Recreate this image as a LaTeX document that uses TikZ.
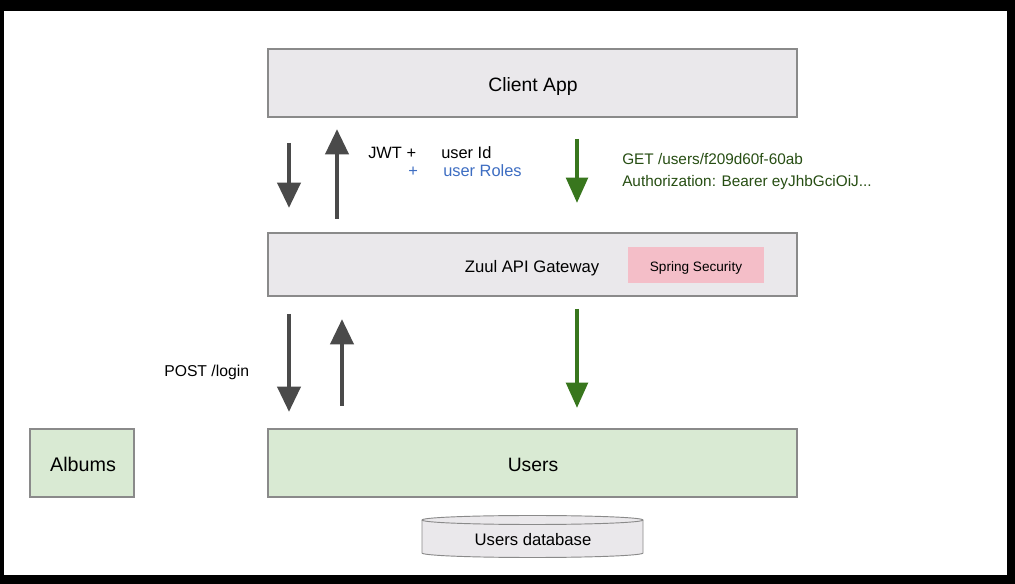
\documentclass[tikz,border=0pt]{standalone}
\usepackage{fontspec}
\setmainfont{Liberation Sans}
\usetikzlibrary{arrows.meta}
\definecolor{boxgray}{HTML}{EAE8EB}
\definecolor{boxgreen}{HTML}{D9EAD3}
\definecolor{pink}{HTML}{F4BEC8}
\definecolor{arrgray}{HTML}{4A4A4A}
\definecolor{arrgreen}{HTML}{38761D}
\definecolor{txtgreen}{HTML}{274E13}
\definecolor{txtblue}{HTML}{3D6DC2}
\definecolor{edge}{HTML}{8A8A8A}
\tikzset{
  box/.style={draw=edge, line width=0.8pt, inner sep=0pt},
  grayarrow/.style={draw=arrgray, line width=3.6pt, -{Triangle[length=19pt,width=17pt]}},
  greenarrow/.style={draw=arrgreen, line width=3.2pt, -{Triangle[length=19pt,width=16pt]}},
  lbl/.style={inner sep=0pt, anchor=base west},
  ctr/.style={inner sep=0pt, anchor=base},
}
\begin{document}
\begin{tikzpicture}[x=0.75pt,y=-0.75pt]
\fill[black] (0,0) rectangle (1015,584);
\fill[white] (4,11) rectangle (1007,575);
\useasboundingbox (0,0) rectangle (1015,584);
% boxes
\node[box, fill=boxgray, minimum width=396.75pt, minimum height=51pt] (client) at (532.5,83) {};
\node[ctr, font=\fontsize{14.5}{16}\selectfont] (clienttext) at (533,92) {Client App};
\node[box, fill=boxgray, minimum width=396.75pt, minimum height=47.25pt] (zuul) at (532.5,264.5) {};
\node[ctr, font=\fontsize{12.5}{14}\selectfont] (zuultext) at (532,272.5) {Zuul API Gateway};
\node[fill=pink, minimum width=102pt, minimum height=27pt, inner sep=0pt] (spring) at (696,265) {};
\node[ctr, font=\fontsize{10.2}{12}\selectfont] (springtext) at (696,271.5) {Spring Security};
\node[box, fill=boxgreen, minimum width=396.75pt, minimum height=51pt] (users) at (532.5,463) {};
\node[ctr, font=\fontsize{14.5}{16}\selectfont] (userstext) at (533,472) {Users};
\node[box, fill=boxgreen, minimum width=78pt, minimum height=51pt] (albums) at (82,463) {};
\node[ctr, font=\fontsize{14.8}{16}\selectfont] (albumstext) at (83,471.5) {Albums};
% database cylinder
\filldraw[fill=boxgray, draw=edge, line width=0.7pt]
  (422,520) -- (422,553) arc[start angle=180, end angle=0, x radius=110.5, y radius=4.5]
  -- (643,520) arc[start angle=0, end angle=-180, x radius=110.5, y radius=4.5] -- cycle;
\draw[draw=edge, line width=0.7pt] (422,520) arc[start angle=180, end angle=0, x radius=110.5, y radius=4.5];
\node[ctr, font=\fontsize{12.5}{14}\selectfont] (db) at (533,546) {Users database};
% arrow endpoints
\coordinate (a1s) at (289,143); \coordinate (a1e) at (289,208);
\coordinate (a2s) at (337,219); \coordinate (a2e) at (337,129);
\coordinate (a3s) at (577,139); \coordinate (a3e) at (577,203);
\coordinate (b1s) at (289,314); \coordinate (b1e) at (289,412);
\coordinate (b2s) at (342,406); \coordinate (b2e) at (342,319);
\coordinate (b3s) at (577,309); \coordinate (b3e) at (577,408);
\draw[grayarrow] (a1s) -- (a1e);
\draw[grayarrow] (a2s) -- (a2e);
\draw[greenarrow] (a3s) -- (a3e);
\draw[grayarrow] (b1s) -- (b1e);
\draw[grayarrow] (b2s) -- (b2e);
\draw[greenarrow] (b3s) -- (b3e);
% labels
\node[lbl, font=\fontsize{12.3}{14}\selectfont] (jwt) at (368,159) {JWT +};
\node[lbl, font=\fontsize{12.3}{14}\selectfont] (uid) at (441,159) {user Id};
\node[lbl, font=\fontsize{12.3}{14}\selectfont, text=txtblue] (plus) at (408,177) {+};
\node[lbl, font=\fontsize{12.3}{14}\selectfont, text=txtblue] (roles) at (443,177) {user Roles};
\node[lbl, font=\fontsize{11.5}{13}\selectfont, text=txtgreen] (get) at (622,165) {GET /users/f209d60f-60ab};
\node[lbl, font=\fontsize{11.5}{13}\selectfont, text=txtgreen] (auth) at (622,187) {Authorization: Bearer eyJhbGciOiJ...};
\node[lbl, font=\fontsize{11.8}{14}\selectfont] (post) at (164,377) {POST /login};
\end{tikzpicture}
\end{document}
